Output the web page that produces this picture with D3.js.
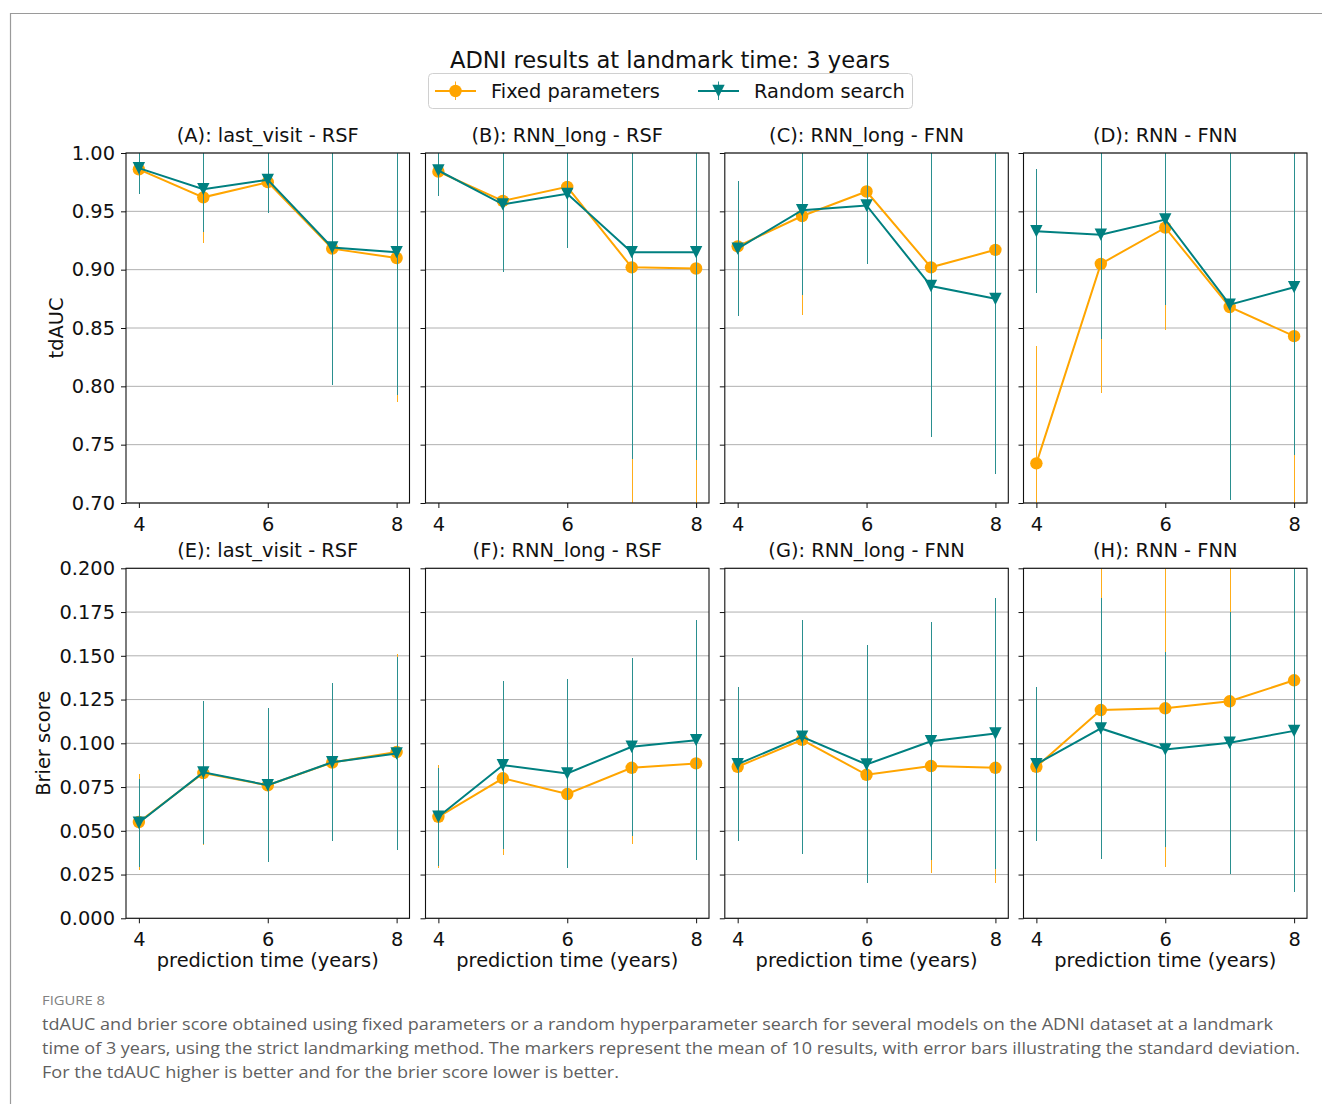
<!DOCTYPE html>
<html>
<head>
<meta charset="utf-8">
<script src="https://cdn.jsdelivr.net/npm/d3@7"></script>
<style>
  body { margin: 0; background: #fff; }
  svg text { font-family: "DejaVu Sans", sans-serif; }
</style>
</head>
<body>
<svg id="fig" width="1322" height="1104"></svg>
<script>
// data
const xs = [4, 5, 6, 7, 8];
const xTicks = [4, 6, 8];
const aucTicks = [0.70, 0.75, 0.80, 0.85, 0.90, 0.95, 1.00];
const brierTicks = [0.000, 0.025, 0.050, 0.075, 0.100, 0.125, 0.150, 0.175, 0.200];

const topTitles = ["(A): last_visit - RSF", "(B): RNN_long - RSF", "(C): RNN_long - FNN", "(D): RNN - FNN"];
const bottomTitles = ["(E): last_visit - RSF", "(F): RNN_long - RSF", "(G): RNN_long - FNN", "(H): RNN - FNN"];

// tdAUC, fixed parameters (mean, std) per panel A-D
const aucFixedMean = [
    [0.986, 0.962, 0.975, 0.918, 0.910],
    [0.984, 0.959, 0.971, 0.902, 0.901],
    [0.920, 0.946, 0.967, 0.902, 0.917],
    [0.734, 0.905, 0.936, 0.868, 0.843]
];
const aucFixedStd = [
    [0.020, 0.039, 0.025, 0.115, 0.123],
    [0.020, 0.055, 0.043, 0.240, 0.245],
    [0.055, 0.085, 0.055, 0.120, 0.150],
    [0.101, 0.111, 0.088, 0.150, 0.170]
];
// tdAUC, random search
const aucRandomMean = [
    [0.987, 0.969, 0.977, 0.919, 0.915],
    [0.985, 0.956, 0.965, 0.915, 0.915],
    [0.918, 0.951, 0.955, 0.886, 0.875],
    [0.933, 0.930, 0.943, 0.870, 0.885]
];
const aucRandomStd = [
    [0.022, 0.037, 0.028, 0.118, 0.122],
    [0.022, 0.058, 0.046, 0.177, 0.178],
    [0.058, 0.073, 0.050, 0.129, 0.150],
    [0.053, 0.089, 0.073, 0.167, 0.144]
];
// Brier score, fixed parameters, panels E-H
const brierFixedMean = [
    [0.0550, 0.0830, 0.0760, 0.0890, 0.0950],
    [0.0580, 0.0800, 0.0710, 0.0860, 0.0885],
    [0.0866, 0.1020, 0.0820, 0.0870, 0.0860],
    [0.0866, 0.1190, 0.1200, 0.1240, 0.1360]
];
const brierFixedStd = [
    [0.0276, 0.0410, 0.0430, 0.0440, 0.0560],
    [0.0295, 0.0438, 0.0400, 0.0434, 0.0520],
    [0.0420, 0.0640, 0.0600, 0.0610, 0.0660],
    [0.0420, 0.0840, 0.0904, 0.0900, 0.1000]
];
// Brier score, random search
const brierRandomMean = [
    [0.0546, 0.0834, 0.0761, 0.0892, 0.0942],
    [0.0580, 0.0875, 0.0828, 0.0980, 0.1018],
    [0.0881, 0.1037, 0.0879, 0.1012, 0.1056],
    [0.0881, 0.1085, 0.0965, 0.1003, 0.1071]
];
const brierRandomStd = [
    [0.0250, 0.0410, 0.0440, 0.0450, 0.0550],
    [0.0280, 0.0480, 0.0540, 0.0510, 0.0687],
    [0.0440, 0.0670, 0.0680, 0.0680, 0.0777],
    [0.0440, 0.0745, 0.0556, 0.0750, 0.0923]
];

const captionLines = [
    "tdAUC and brier score obtained using fixed parameters or a random hyperparameter search for several models on the ADNI dataset at a landmark",
    "time of 3 years, using the strict landmarking method. The markers represent the mean of 10 results, with error bars illustrating the standard deviation.",
    "For the tdAUC higher is better and for the brier score lower is better."
];
const captionWidths = [1231, 1258, 577];

const fixedColor = "orange";
const randomColor = "teal";
// error bars look a touch lighter than the lines in the figure
const fixedErrColor = "#ffad1a";
const randomErrColor = "#2a8f8f";

// layout
const W = 283.5, H = 350;
const colX = [126, 425.5, 724.8, 1023.5];
const rowY = [153, 568.3];
const fontSize = 19.4;

var svg = d3.select("#fig");

// outer frame of the figure
svg.append("path")
    .attr("d", "M10.5,1104 V13.5 H1322")
    .attr("fill", "none")
    .attr("stroke", "#9a9a9a")
    .attr("stroke-width", 1.2);

svg.append("defs").append("clipPath")
    .attr("id", "plotclip")
    .append("rect")
    .attr("width", W)
    .attr("height", H);

var x = d3.scaleLinear().domain([3.8, 8.2]).range([0, W]);
var yAuc = d3.scaleLinear().domain([0.70, 1.00]).range([H, 0]);
var yBrier = d3.scaleLinear().domain([0, 0.200]).range([H, 0]);

function trianglePath(s) {
    return "M" + (-s) + "," + (-s) + "L" + s + "," + (-s) + "L0," + s + "Z";
}

function drawPanel(row, col, title, y, ticks, fmt, series) {
    var g = svg.append("g")
        .attr("transform", "translate(" + colX[col] + "," + rowY[row] + ")");

    // horizontal grid
    g.selectAll(".grid")
        .data(ticks)
        .enter().append("line")
        .attr("x1", 0).attr("x2", W)
        .attr("y1", d => y(d)).attr("y2", d => y(d))
        .attr("stroke", "#b0b0b0")
        .attr("stroke-width", 1);

    // y axis
    var ya = g.append("g")
        .call(d3.axisLeft(y).tickValues(ticks).tickSize(5).tickPadding(6)
            .tickFormat(col === 0 ? fmt : ""));
    ya.select(".domain").remove();

    // x axis
    var xa = g.append("g")
        .attr("transform", "translate(0," + H + ")")
        .call(d3.axisBottom(x).tickValues(xTicks).tickSize(5).tickPadding(9)
            .tickFormat(d3.format("d")));
    xa.select(".domain").remove();

    [ya, xa].forEach(a => {
        a.attr("font-size", fontSize).attr("font-family", null);
        a.selectAll("line").attr("stroke", "#111").attr("stroke-width", 1);
        a.selectAll("text").attr("fill", "#111");
    });

    // snap the thin error bars to pixel centres so they stay crisp
    var px = d => Math.round(colX[col] + x(d)) + 0.5 - colX[col];

    var plot = g.append("g").attr("clip-path", "url(#plotclip)");
    series.forEach(s => {
        // error bars
        plot.append("g").selectAll("line")
            .data(xs)
            .enter().append("line")
            .attr("x1", d => px(d)).attr("x2", d => px(d))
            .attr("y1", (d, i) => y(s.mean[i] - s.std[i]))
            .attr("y2", (d, i) => y(s.mean[i] + s.std[i]))
            .attr("stroke", s.errColor)
            .attr("stroke-width", 1)
            .attr("shape-rendering", "crispEdges");

        plot.append("path")
            .datum(xs.map((d, i) => [d, s.mean[i]]))
            .attr("d", d3.line().x(d => x(d[0])).y(d => y(d[1])))
            .attr("fill", "none")
            .attr("stroke", s.color)
            .attr("stroke-width", 2);

        if (s.marker === "circle") {
            plot.append("g").selectAll("circle")
                .data(xs)
                .enter().append("circle")
                .attr("cx", d => x(d))
                .attr("cy", (d, i) => y(s.mean[i]))
                .attr("r", 6.2)
                .attr("fill", s.color);
        } else {
            plot.append("g").selectAll("path")
                .data(xs)
                .enter().append("path")
                .attr("transform", (d, i) => "translate(" + x(d) + "," + y(s.mean[i]) + ")")
                .attr("d", trianglePath(6.2))
                .attr("fill", s.color);
        }
    });

    // spines
    g.append("rect")
        .attr("width", W).attr("height", H)
        .attr("fill", "none")
        .attr("stroke", "#111")
        .attr("stroke-width", 1.1);

    g.append("text")
        .attr("x", W / 2).attr("y", -11)
        .attr("text-anchor", "middle")
        .attr("font-size", fontSize)
        .attr("fill", "#111")
        .text(title);

    if (row === 1) {
        g.append("text")
            .attr("x", W / 2).attr("y", H + 49)
            .attr("text-anchor", "middle")
            .attr("font-size", fontSize)
            .attr("fill", "#111")
            .text("prediction time (years)");
    }
}

for (let c = 0; c < 4; c++) {
    drawPanel(0, c, topTitles[c], yAuc, aucTicks, d3.format(".2f"), [
        { mean: aucFixedMean[c], std: aucFixedStd[c], color: fixedColor, errColor: fixedErrColor, marker: "circle" },
        { mean: aucRandomMean[c], std: aucRandomStd[c], color: randomColor, errColor: randomErrColor, marker: "triangle" }
    ]);
    drawPanel(1, c, bottomTitles[c], yBrier, brierTicks, d3.format(".3f"), [
        { mean: brierFixedMean[c], std: brierFixedStd[c], color: fixedColor, errColor: fixedErrColor, marker: "circle" },
        { mean: brierRandomMean[c], std: brierRandomStd[c], color: randomColor, errColor: randomErrColor, marker: "triangle" }
    ]);
}

// y labels
svg.append("text")
    .attr("transform", "translate(63," + (rowY[0] + H / 2) + ") rotate(-90)")
    .attr("text-anchor", "middle")
    .attr("font-size", fontSize)
    .attr("fill", "#111")
    .text("tdAUC");
svg.append("text")
    .attr("transform", "translate(50," + (rowY[1] + H / 2) + ") rotate(-90)")
    .attr("text-anchor", "middle")
    .attr("font-size", fontSize)
    .attr("fill", "#111")
    .text("Brier score");

// suptitle
svg.append("text")
    .attr("x", 670).attr("y", 67.5)
    .attr("text-anchor", "middle")
    .attr("font-size", 22.6)
    .attr("fill", "#111")
    .text("ADNI results at landmark time: 3 years");

// legend
var leg = svg.append("g");
leg.append("rect")
    .attr("x", 428.5).attr("y", 73.5)
    .attr("width", 484).attr("height", 35)
    .attr("rx", 4)
    .attr("fill", "#fff")
    .attr("stroke", "#d0d0d0");
var legendItems = [
    { label: "Fixed parameters", color: fixedColor, errColor: fixedErrColor, marker: "circle", x0: 435, tx: 491 },
    { label: "Random search", color: randomColor, errColor: randomErrColor, marker: "triangle", x0: 698, tx: 754 }
];
legendItems.forEach(it => {
    var cy = 91, cx = it.x0 + 20.5;
    leg.append("line")
        .attr("x1", it.x0).attr("x2", it.x0 + 41)
        .attr("y1", cy).attr("y2", cy)
        .attr("stroke", it.color).attr("stroke-width", 2);
    leg.append("line")
        .attr("x1", cx).attr("x2", cx)
        .attr("y1", cy - 9.5).attr("y2", cy + 9)
        .attr("stroke", it.errColor).attr("stroke-width", 1);
    if (it.marker === "circle") {
        leg.append("circle").attr("cx", cx).attr("cy", cy).attr("r", 6.2).attr("fill", it.color);
    } else {
        leg.append("path").attr("transform", "translate(" + cx + "," + cy + ")")
            .attr("d", trianglePath(6.2)).attr("fill", it.color);
    }
    leg.append("text")
        .attr("x", it.tx).attr("y", cy + 7)
        .attr("font-size", fontSize)
        .attr("fill", "#111")
        .text(it.label);
});

// caption
svg.append("text")
    .attr("x", 42).attr("y", 1005)
    .attr("font-size", 13)
    .attr("fill", "#808080")
    .style("font-family", "'Open Sans', sans-serif")
    .attr("textLength", 63)
    .attr("lengthAdjust", "spacingAndGlyphs")
    .text("FIGURE 8");
captionLines.forEach((t, i) => {
    svg.append("text")
        .attr("x", 42).attr("y", 1030 + i * 24)
        .attr("font-size", 17)
        .attr("fill", "#5f5f5f")
        .style("font-family", "'Open Sans', sans-serif")
        .attr("textLength", captionWidths[i])
        .attr("lengthAdjust", "spacingAndGlyphs")
        .text(t);
});
</script>
</body>
</html>
